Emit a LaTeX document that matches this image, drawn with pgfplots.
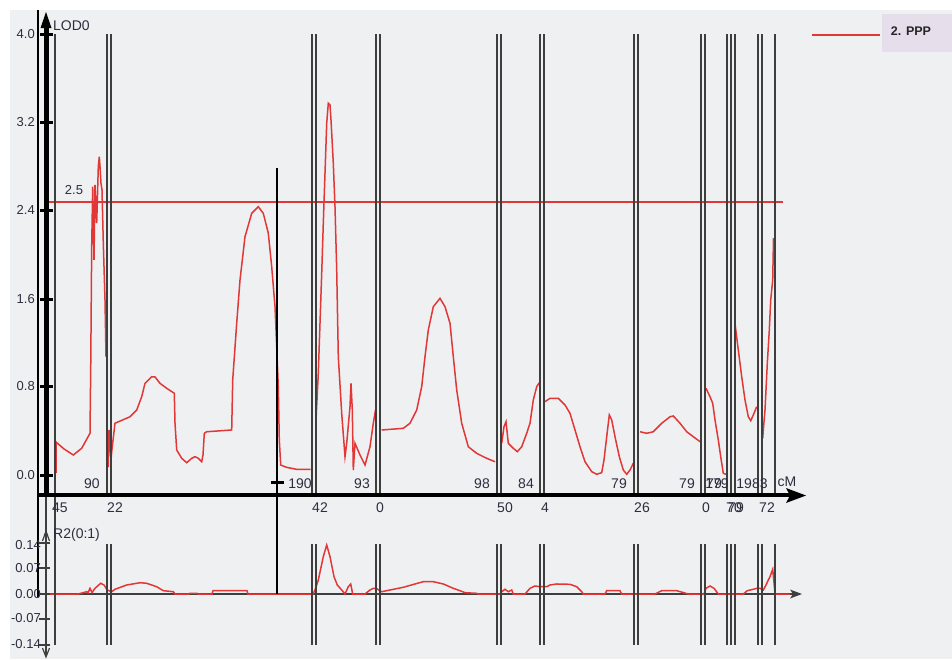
\documentclass[border=0pt]{standalone}
\usepackage{fontspec}
\setmainfont{Liberation Sans}
\usepackage{pgfplots}
\pgfplotsset{compat=1.18}
\definecolor{bg}{RGB}{238,240,242}
\definecolor{qred}{RGB}{226,55,55}
\definecolor{mk}{RGB}{62,62,62}
\definecolor{txt}{RGB}{45,45,62}
\definecolor{legbg}{RGB}{231,222,235}
\pgfplotsset{frame/.style={scale only axis, width=952pt, height=659pt, at={(0pt,0pt)}, anchor=south west,
  axis lines=none, ticks=none, clip=false, xmin=0, xmax=952}}
\pgfplotsset{px/.style={frame, ymin=0, ymax=659, y dir=reverse}}
\begin{document}
\begin{tikzpicture}
% ---------- background, legend, bottom axis (under the data) ----------
\begin{axis}[px]
\fill[white] (axis cs:0,0) rectangle (axis cs:952,659);
\fill[bg] (axis cs:10,10) rectangle (axis cs:952,659);
\fill[legbg] (axis cs:882,14) rectangle (axis cs:952,52);
\draw[qred, line width=2pt] (axis cs:812,35) -- (axis cs:880,35);
\node[font=\fontsize{12.5}{14}\selectfont\bfseries, text=black!85] at (axis cs:911,31) {2. PPP};
\draw[mk, line width=1.5pt] (axis cs:46,594) -- (axis cs:793,594);
\fill[mk] (axis cs:790,589.5) -- (axis cs:802,594) -- (axis cs:790,598.5) -- (axis cs:793,594) -- cycle;
\end{axis}
% ---------- LOD profile ----------
\begin{axis}[frame, ymin=-1.67528, ymax=4.30204]
\addplot[qred, line width=1.8pt] coordinates {(46,2.47) (783,2.47)};
\addplot[qred, line width=1.5pt] coordinates {(56,0.012)(56,0.293)(64,0.23)(73.3,0.175)(81.7,0.236)(90,0.372)(90.7,0.946)(91.7,2.064)(92.7,2.609)(94,1.944)(95,2.624)(96.7,2.279)(98.3,2.790)(99.3,2.881)(100,2.790)(101,2.639)(102,2.579)(103.3,2.098)(105,1.581)(106,1.067)};
\addplot[qred, line width=1.5pt] coordinates {(108.3,0.066)(109,0.402)(111,0.130)(111.7,0.205)(115,0.463)(130,0.522)(136.7,0.583)(141.7,0.704)(145,0.825)(151.7,0.885)(155,0.883)(160,0.825)(166.7,0.780)(174.3,0.735)(175,0.463)(176.7,0.220)(181.7,0.145)(186.7,0.105)(191.7,0.145)(195,0.160)(198.3,0.145)(201.7,0.114)(203,0.175)(204.3,0.372)(206.7,0.386)(231.7,0.402)(232.7,0.855)(236.7,1.370)(240,1.762)(245,2.155)(251.7,2.367)(258.3,2.427)(263.3,2.367)(268.3,2.186)(271.7,1.883)(275,1.520)(276,1.309)(278.3,0.795)(279.3,0.311)(280.7,0.084)(286.7,0.063)(296.7,0.045)(310.7,0.045)};
\addplot[qred, line width=1.5pt] coordinates {(316,0.493)(318.3,0.916)(320,1.370)(321.7,1.823)(323.3,2.277)(325,2.730)(326.7,3.184)(328.3,3.365)(330,3.350)(331,3.214)(333.3,2.821)(335,2.427)(336.7,1.853)(338.3,1.067)(341.7,0.553)(345,0.160)(346.7,0.281)(350,0.613)(351,0.825)(352.3,0.583)(353.3,0.039)(355,0.281)(360,0.175)(365,0.084)(370,0.250)(373.3,0.463)(375.5,0.583)};
\addplot[qred, line width=1.5pt] coordinates {(381.7,0.402)(403.3,0.417)(410,0.463)(416.7,0.583)(421.7,0.795)(425,1.067)(428.3,1.309)(433.3,1.520)(440,1.596)(445,1.520)(450,1.370)(453.3,1.067)(456.7,0.765)(461.7,0.463)(468.3,0.250)(476.7,0.190)(486.7,0.145)(495,0.114)};
\addplot[qred, line width=1.5pt] coordinates {(501.7,0.281)(504,0.432)(506,0.477)(508.3,0.281)(513.3,0.236)(517.3,0.205)(521.7,0.250)(526.7,0.372)(530,0.463)(533.3,0.674)(536.7,0.795)(539.3,0.831)};
\addplot[qred, line width=1.5pt] coordinates {(545,0.659)(550,0.689)(558.3,0.689)(565,0.629)(570,0.553)(575,0.402)(580,0.250)(585,0.114)(591.7,0.024)(596.7,0.000)(601.7,0.015)(604,0.130)(606.7,0.341)(609.3,0.538)(611.7,0.493)(615,0.341)(619.3,0.160)(623.3,0.039)(626.7,0.000)(630,0.039)(633.3,0.100)};
\addplot[qred, line width=1.5pt] coordinates {(640,0.386)(646.7,0.372)(653.3,0.386)(661.7,0.463)(670,0.522)(673.3,0.529)(680,0.463)(686.7,0.386)(693.3,0.341)(700,0.296)};
\addplot[qred, line width=1.5pt] coordinates {(706,0.780)(710,0.704)(712.7,0.644)(715,0.493)(718.3,0.311)(720.7,0.160)(723.3,0.009)(726,0.000)};
\addplot[qred, line width=1.5pt] coordinates {(735,1.370)(736,1.293)(738.3,1.127)(741.7,0.885)(745,0.674)(748.3,0.522)(750.7,0.486)(753.3,0.538)(756.7,0.613)};
\addplot[qred, line width=1.5pt] coordinates {(762.7,0.327)(763.3,0.402)(765,0.583)(767.3,1.007)(769.3,1.309)(770.7,1.581)(772.7,1.762)(773.5,2.143)};
\end{axis}
% ---------- R2 profile ----------
\begin{axis}[frame, ymin=-0.178424, ymax=1.630524]
\addplot[qred, line width=1.5pt] coordinates {(46,0)(78.3,0)(86.7,0.0063)(88,0.003)(90,0.0156)(92,0.004)(95,0.0156)(100.7,0.0294)(104,0.0247)(107.3,0.011)(111.7,0.0063)(115,0.0129)(126.7,0.0247)(140,0.031)(146.7,0.0294)(156.7,0.020)(163.3,0.0091)(173.3,0.0063)(175,0)(189,0)(190,0.002)(197,0.002)(198,0)(212,0)(213,0.0091)(247,0.0091)(248,0)(313,0)(315,0.011)(318.3,0.0384)(323.3,0.1024)(326.7,0.1345)(330,0.1024)(334,0.0475)(337.3,0.0247)(341.7,0.011)(345,0)(348.3,0.020)(350.7,0.0275)(352.7,0)(365,0)(370,0.011)(373.3,0.0156)(376,0.0156)(381.7,0.0063)(390,0.011)(403.3,0.0184)(415,0.0275)(423.3,0.0338)(433.3,0.0338)(443.3,0.0275)(453.3,0.0156)(460,0.0091)(465,0.0036)(476.7,0.0019)(478,0)(500,0)(501.7,0.0063)(505,0.0129)(508.3,0.0063)(511.7,0.011)(513.3,0)(525,0)(530,0.0156)(535,0.022)(540,0.020)(546.7,0.020)(550,0.0247)(556.7,0.0275)(570,0.0266)(576.7,0.020)(581.7,0.0063)(583.3,0)(605,0)(606.7,0.0091)(620,0.0091)(621.5,0)(655,0)(661.7,0.0091)(676.7,0.0091)(688.3,0)(704,0)(706,0.0156)(710,0.022)(714,0.0156)(718.3,0)(743.3,0)(747.3,0.0091)(753.3,0.0129)(756.7,0.0156)(760,0.0156)(763.3,0.011)(766,0.0247)(768.3,0.0384)(770,0.0475)(772.7,0.0678)(774,0.031)(775,0)(790,0)};
\end{axis}
% ---------- overlay: axes, marker lines, labels ----------
\begin{axis}[px]
\pgfplotsinvokeforeach{107,111,312,316,376,380,497,501,540,544,634,638,701,705,727,731,735,758,762,775}{
  \draw[mk, line width=1.5pt] (axis cs:#1,34) -- (axis cs:#1,495);
  \draw[mk, line width=1.5pt] (axis cs:#1,544) -- (axis cs:#1,645);
}
\draw[mk, line width=1.5pt] (axis cs:55,34) -- (axis cs:55,645);
\draw[black, line width=2pt] (axis cs:38,10) -- (axis cs:38,597);
\draw[black, line width=5pt] (axis cs:46,24) -- (axis cs:46,497);
\fill[black] (axis cs:40.5,28) -- (axis cs:46,12) -- (axis cs:51.5,28) -- cycle;
\draw[mk, line width=1.3pt] (axis cs:46,497) -- (axis cs:46,656);
\draw[mk, line width=1.2pt] (axis cs:42.5,541) -- (axis cs:46,531) -- (axis cs:49.5,541);
\draw[mk, line width=1.2pt] (axis cs:42.5,648) -- (axis cs:46,657) -- (axis cs:49.5,648);
\draw[black, line width=4pt] (axis cs:38,495) -- (axis cs:792,495);
\fill[black] (axis cs:786,488) -- (axis cs:806,495.5) -- (axis cs:786,503) -- (axis cs:790,495.5) -- cycle;
\draw[black, line width=2.5pt] (axis cs:277,168) -- (axis cs:277,594);
\draw[black, line width=3pt] (axis cs:271,482) -- (axis cs:284,482);
% LOD ticks
\pgfplotsinvokeforeach{34,122,210,299,386,475}{
  \draw[black, line width=3pt] (axis cs:40,#1) -- (axis cs:53,#1);
}
\begin{scope}[every node/.style={font=\fontsize{13}{15}\selectfont, text=txt, inner sep=0pt}]
\node[anchor=east] at (axis cs:35,34) {4.0};
\node[anchor=east] at (axis cs:35,122) {3.2};
\node[anchor=east] at (axis cs:35,210) {2.4};
\node[anchor=east] at (axis cs:35,299) {1.6};
\node[anchor=east] at (axis cs:35,386) {0.8};
\node[anchor=east] at (axis cs:35,475) {0.0};
\node[anchor=east] at (axis cs:41,545) {0.14};
\node[anchor=east] at (axis cs:41,568) {0.07};
\node[anchor=east] at (axis cs:41,594) {0.00};
\node[anchor=east] at (axis cs:41,618) {-0.07};
\node[anchor=east] at (axis cs:41,644) {-0.14};
\node at (axis cs:74,190) {2.5};
\end{scope}
\pgfplotsinvokeforeach{543,568,594,619,645}{
  \draw[mk, line width=1.5pt] (axis cs:39,#1) -- (axis cs:50,#1);
}
\begin{scope}[every node/.style={font=\fontsize{14}{16}\selectfont, text=txt, inner sep=0pt}]
\node[anchor=west] at (axis cs:53,26) {LOD0};
\node[anchor=west] at (axis cs:53,535) {R2(0:1)};
\node at (axis cs:92,484) {90};
\node at (axis cs:300,484) {190};
\node at (axis cs:362,484) {93};
\node at (axis cs:482,484) {98};
\node at (axis cs:526,484) {84};
\node at (axis cs:619,484) {79};
\node at (axis cs:687,484) {79};
\node at (axis cs:714,484) {79};
\node at (axis cs:717,484) {179};
\node at (axis cs:752,484) {1983};
\node at (axis cs:787,482) {cM};
\node at (axis cs:60,508) {45};
\node at (axis cs:115,508) {22};
\node at (axis cs:320,508) {42};
\node at (axis cs:380,508) {0};
\node at (axis cs:505,508) {50};
\node at (axis cs:545,508) {4};
\node at (axis cs:642,508) {26};
\node at (axis cs:706,508) {0};
\node at (axis cs:734,508) {70};
\node at (axis cs:736,508) {79};
\node at (axis cs:767,508) {72};
\end{scope}
\end{axis}
\pgfresetboundingbox
\path (0,0) rectangle (952pt,659pt);
\end{tikzpicture}
\end{document}
